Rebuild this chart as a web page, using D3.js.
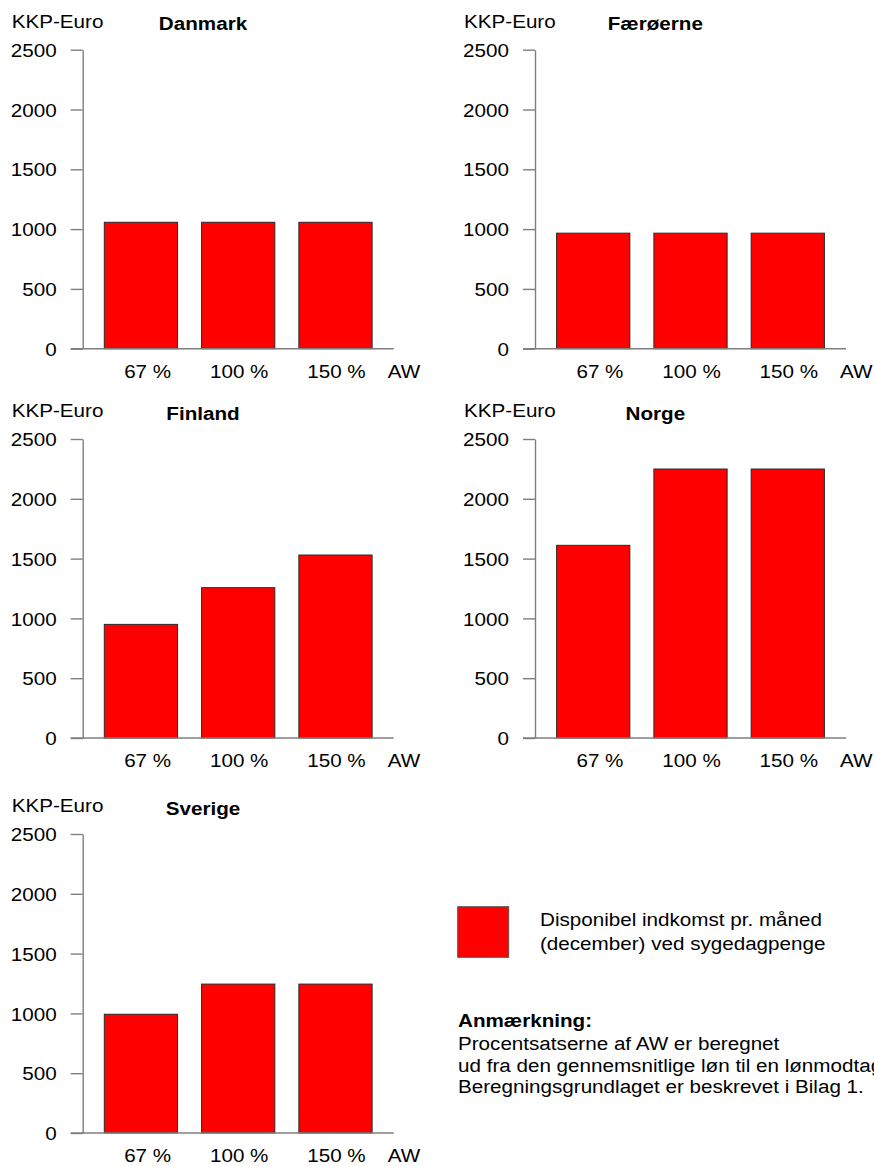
<!DOCTYPE html>
<html>
<head>
<meta charset="utf-8">
<script src="https://cdn.jsdelivr.net/npm/d3@7"></script>
<style>
  html, body { margin: 0; padding: 0; background: #fff; }
  svg { display: block; }
  text { font-family: "Liberation Sans", Arial, sans-serif; font-size: 18.6px; fill: #000; }
</style>
</head>
<body>
<svg id="chart" width="874" height="1166"></svg>
<script>
// ---- data ----
const categories = ["67 %", "100 %", "150 %"];
const countries = ["Danmark", "Færøerne", "Finland", "Norge", "Sverige"];
const danmark  = [1057, 1057, 1057];
const faeroerne = [966, 966, 966];
const finland  = [950, 1257, 1530];
const norge    = [1611, 2249, 2249];
const sverige  = [993, 1245, 1245];
const yTicks = [0, 500, 1000, 1500, 2000, 2500];
const yLabel = "KKP-Euro";
const xUnit = "AW";
const legendLines = ["Disponibel indkomst pr. måned", "(december) ved sygedagpenge"];
const noteTitle = "Anmærkning:";
const noteLines = ["Procentsatserne af AW er beregnet",
                   "ud fra den gennemsnitlige løn til en lønmodtager.",
                   "Beregningsgrundlaget er beskrevet i Bilag 1."];

const seriesByCountry = [danmark, faeroerne, finland, norge, sverige];

// ---- layout ----
const SX = 1.11;                 // horizontal stretch of the original font
const axisX = [82.7, 535];       // y-axis x-position per column
const baseY = [348.7, 738, 1133];// zero line y per row
const plotH = 299;
const plotW = 311;
const gridCol = [0, 1, 0, 1, 0];
const gridRow = [0, 0, 1, 1, 2];

const svg = d3.select("#chart");
svg.append("rect").attr("width", 874).attr("height", 1166).attr("fill", "#fff");

function label(g, x, y, s, anchor, bold) {
  return g.append("text")
    .attr("transform", `translate(${x},${y}) scale(${SX},1)`)
    .attr("text-anchor", anchor || "start")
    .style("font-weight", bold ? "bold" : "normal")
    .text(s);
}

countries.forEach((name, i) => {
  const ax = axisX[gridCol[i]];
  const by = baseY[gridRow[i]];
  const g = svg.append("g").attr("transform", `translate(${ax},${by - plotH})`);
  const vals = seriesByCountry[i];

  const y = d3.scaleLinear().domain([0, 2500]).range([plotH, 0]);
  const x = d3.scaleBand().domain(categories).range([0, plotW])
    .paddingInner(0.247).paddingOuter(0.222);

  // bars
  g.selectAll("rect.bar").data(categories).join("rect")
    .attr("class", "bar")
    .attr("x", c => x(c))
    .attr("width", x.bandwidth())
    .attr("y", (c, k) => y(vals[k]))
    .attr("height", (c, k) => y(0) - y(vals[k]))
    .attr("fill", "#ff0000")
    .attr("stroke", "#2a2a2a")
    .attr("stroke-width", 1);

  // y axis
  const yAxis = g.append("g")
    .call(d3.axisLeft(y).tickValues(yTicks).tickSize(12).tickSizeOuter(0).tickFormat(d3.format("d")));
  yAxis.select(".domain").attr("stroke", "#7f7f7f").attr("stroke-width", 1.4);
  yAxis.selectAll(".tick line").attr("stroke", "#7f7f7f").attr("stroke-width", 1.4);
  yAxis.selectAll(".tick text")
    .attr("x", null).attr("dy", null)
    .attr("transform", `translate(-26,6.6) scale(${SX},1)`)
    .attr("fill", "#000")
    .style("font-size", "18.6px")
    .style("font-family", "\"Liberation Sans\", Arial, sans-serif");

  // x axis line
  g.append("line")
    .attr("x1", -12).attr("x2", x.range()[1])
    .attr("y1", y(0)).attr("y2", y(0))
    .attr("stroke", "#7f7f7f").attr("stroke-width", 1.4);

  // x labels
  categories.forEach(c => label(g, x(c) + x.bandwidth() - 6.4, y(0) + 29, c, "end"));
  label(g, 305, y(0) + 29, xUnit, "start");

  // y-axis label and title
  label(g, -71, y(2500) - 22, yLabel, "start");
  label(g, 120.3, y(2500) - 19.3, name, "middle", true);
});

// legend
const lg = svg.append("g");
lg.append("rect").attr("x", 457.7).attr("y", 906.7).attr("width", 51).attr("height", 50.6)
  .attr("fill", "#ff0000").attr("stroke", "#555").attr("stroke-width", 1);
legendLines.forEach((s, k) => label(lg, 540, 925.7 + k * 24.3, s, "start"));

// note
label(lg, 458, 1027, noteTitle, "start", true);
noteLines.forEach((s, k) => label(lg, 458, 1050 + k * 21.5, s, "start"));
</script>
</body>
</html>
